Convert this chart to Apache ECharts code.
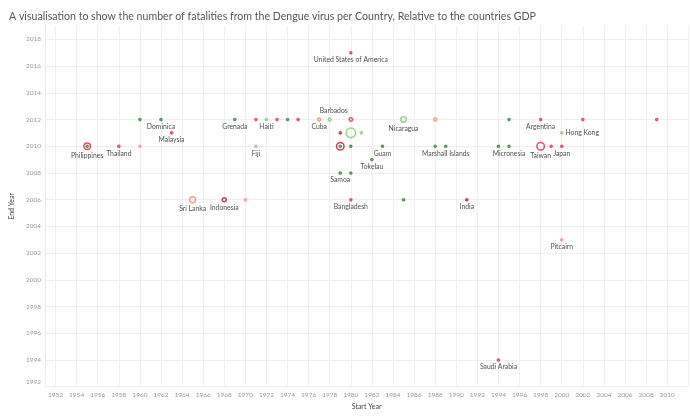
<!DOCTYPE html>
<html>
<head>
<meta charset="utf-8">
<script src="https://cdn.jsdelivr.net/npm/echarts@6/dist/echarts.min.js"></script>
<style>
html,body{margin:0;padding:0;background:#fff;}
#chart{width:690px;height:417px;}
</style>
</head>
<body>
<div id="chart"></div>
<script>
// ---- data ----
const startYear = [1955,1955,1958,1960,1960,1962,1963,1965,1968,1970,1969,1971,1971,1972,1973,1974,1975,1977,1978,1980,1980,1979,1980,1981,1979,1979,1980,1983,1982,1979,1980,1980,1985,1985,1988,1988,1989,1991,1994,1995,1995,1998,2000,1998,1999,2000,2002,2009,2000,1994];
const endYear   = [2010,2010,2010,2010,2012,2012,2011,2006,2006,2006,2012,2012,2010,2012,2012,2012,2012,2012,2012,2012,2017,2011,2011,2011,2010,2010,2010,2010,2009,2008,2008,2006,2006,2012,2012,2010,2010,2006,2010,2010,2012,2012,2011,2010,2010,2010,2012,2012,2003,1994];
const country   = ['Philippines','','Thailand','','','Dominica','Malaysia','Sri Lanka','Indonesia','','Grenada','','Fiji','Haiti','','','','Cuba','Barbados','','United States of America','','','','','','','Guam','Tokelau','Samoa','','Bangladesh','','Nicaragua','','','Marshall Islands','India','','Micronesia','','Argentina','Hong Kong','Taiwan','','Japan','','','Pitcairn','Saudi Arabia'];
// GDP band 1 (green) .. 5 (dark red)
const gdpBand   = [4,1,4,3,1,1,4,3,5,3,1,4,2,2,4,1,4,3,2,4,4,5,2,2,5,1,1,1,1,1,1,4,1,2,3,1,1,5,1,1,1,4,2,4,4,4,4,4,3,4];
// relative number of fatalities (mark size)
const fatalities= [250,5,5,4,5,5,5,200,67,5,5,5,5,5,5,5,5,25,25,40,5,5,620,5,350,5,5,5,5,5,5,5,5,160,25,5,5,5,5,5,5,5,5,350,5,5,5,5,5,5];
const xTicks = [1952,1954,1956,1958,1960,1962,1964,1966,1968,1970,1972,1974,1976,1978,1980,1982,1984,1986,1988,1990,1992,1994,1996,1998,2000,2002,2004,2006,2008,2010,2012];
const xLabels = xTicks.slice(0, -1);
const yTicks = [1992,1994,1996,1998,2000,2002,2004,2006,2008,2010,2012,2014,2016,2018];

// ---- styles ----
const bandColors = {1:'#2f7a31', 2:'#7fc672', 3:'#f48a72', 4:'#e1263f', 5:'#b3102f'};
const labelSide = {'Barbados':{position:'top', offset:[4,2]}, 'Hong Kong':{position:'right', distance:2}};
const sizeOf = v => 1.3 + 0.33 * Math.sqrt(v);

const order = startYear.map((_, i) => i).sort((a, b) => fatalities[b] - fatalities[a]);
const points = order.map(i => {
  const c = bandColors[gdpBand[i]];
  const side = labelSide[country[i]] || {position:'bottom', distance:2};
  return {
    value: [startYear[i], endYear[i]],
    name: country[i],
    symbolSize: sizeOf(fatalities[i]),
    itemStyle: {color:'rgba(255,255,255,0)', borderColor:c, borderWidth:1.5},
    label: Object.assign({show: country[i] !== ''}, side)
  };
});

const chart = echarts.init(document.getElementById('chart'), null, {renderer:'canvas'});
chart.setOption({
  animation: false,
  backgroundColor: '#fff',
  title: {
    text: 'A visualisation to show the number of fatalities from the Dengue virus per Country, Relative to the countries GDP',
    left: 4, top: 6,
    textStyle: {fontFamily:'Lato', fontSize:10.6, fontWeight:'normal', color:'#555'}
  },
  grid: {left: 37.3, right: 1.7, top: 26, bottom: 30.3, containLabel: false},
  xAxis: {
    type: 'value', min: 1951, max: 2012,
    name: 'Start Year', nameLocation: 'middle', nameGap: 15,
    nameTextStyle: {fontFamily:'Lato', fontSize:7, color:'#444'},
    axisLine: {show:false},
    axisTick: {show:false, customValues: xTicks},
    axisLabel: {customValues: xLabels, fontFamily:'Lato', fontSize:6.5, color:'#9a9a9a', margin:5,
      formatter: v => String(v)},
    splitLine: {show:true, lineStyle:{color:'#efefef', width:1}}
  },
  yAxis: {
    type: 'value', min: 1992, max: 2019,
    name: 'End Year', nameLocation: 'middle', nameGap: 21,
    nameTextStyle: {fontFamily:'Lato', fontSize:7, color:'#444'},
    axisLine: {show:true, lineStyle:{color:'#ececec'}},
    axisTick: {show:false, customValues: yTicks},
    axisLabel: {customValues: yTicks, fontFamily:'Lato', fontSize:6.5, color:'#9a9a9a', margin:4,
      formatter: v => v === 1992 ? '{e|' + v + '}' : String(v),
      rich: {e: {fontFamily:'Lato', fontSize:6.5, color:'#9a9a9a', padding:[0,0,10,0]}}},
    splitLine: {show:true, lineStyle:{color:'#efefef', width:1}}
  },
  series: [{
    type: 'scatter',
    data: points,
    label: {formatter: p => p.name, fontFamily:'Lato', fontSize:6.8, color:'#222'},
    emphasis: {disabled: true}
  }]
});
</script>
</body>
</html>
